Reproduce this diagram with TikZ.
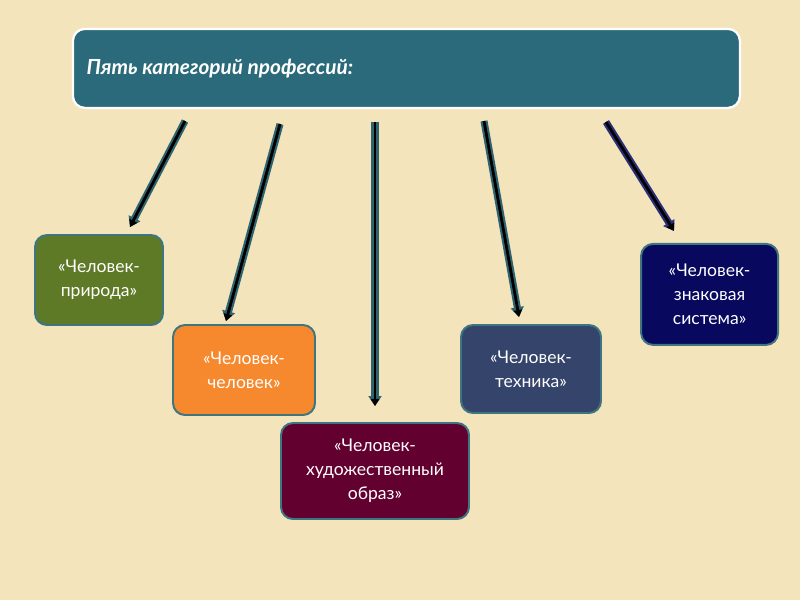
\documentclass[tikz,border=0pt]{standalone}
\usepackage{fontspec}
\setmainfont{Lato}
\usepackage{tikz}
\usetikzlibrary{arrows.meta}

\definecolor{bgsand}{HTML}{F3E4BC}
\definecolor{bannerteal}{HTML}{2A6A7B}
\definecolor{boxedge}{HTML}{3F7580}
\definecolor{natgreen}{HTML}{5F7A27}
\definecolor{humorange}{HTML}{F6892E}
\definecolor{artmaroon}{HTML}{62002F}
\definecolor{techslate}{HTML}{35446A}
\definecolor{signnavy}{HTML}{07085E}
\definecolor{glowteal}{HTML}{2E6470}
\definecolor{glownavy}{HTML}{2B2F7A}

\begin{document}
\begin{tikzpicture}[
		catbox/.style args = {#1/#2/#3}{%
			rectangle, rounded corners=0.3cm, draw=boxedge, line width=1.4pt,
			fill=#1, text=white, align=center, font=\fontsize{12.5}{17}\selectfont,
			minimum width=#2cm, minimum height=#3cm, inner sep=2pt},
		arr/.style = {%
			-{Triangle[length=5pt,width=6pt]}, line width=2pt, draw=black,
			preaction={draw=#1, line width=5pt, -{Triangle[length=7pt,width=9pt]}}}
		]
		\useasboundingbox[fill=bgsand] (0,0) rectangle (20,-15);
		\node (title) [rectangle, rounded corners=0.3cm, draw=white, line width=1.6pt,
			fill=bannerteal, minimum width=16.675cm, minimum height=1.975cm] at (10.16,-1.71) {};
		\node [anchor=west, text=white, font=\fontsize{14.8}{17}\selectfont\bfseries\itshape]
			at ([xshift=0.25cm]title.west) {Пять категорий профессий:};
		\node (nature) [catbox=natgreen/3.2/2.25]    at (2.475,-7.0)   {«Человек-\\природа»};
		\node (human)  [catbox=humorange/3.55/2.25]  at (6.1,-9.25)    {«Человек-\\человек»};
		\node (art)    [catbox=artmaroon/4.7/2.4]    at (9.375,-11.775) {«Человек-\\художественный\\образ»};
		\node (tech)   [catbox=techslate/3.5/2.2]    at (13.275,-9.225) {«Человек-\\техника»};
		\node (sign)   [catbox=signnavy/3.425/2.525] at (17.74,-7.36)  {«Человек-\\знаковая\\система»};
		\coordinate (s1) at (4.625,-3.025);
		\coordinate (s2) at (7.0,-3.1);
		\coordinate (s3) at (9.375,-3.05);
		\coordinate (s4) at (12.1,-3.025);
		\coordinate (s5) at (15.15,-3.05);
		\foreach \from/\to/\dx/\dy/\glow in {s1/nature/0.775/0.175/glowteal, s2/human/-0.45/0.075/glowteal,
			s3/art/0/0.4/glowteal, s4/tech/-0.3/0.175/glowteal, s5/sign/-0.89/0.3/glownavy}
		\draw[arr=\glow] (\from) -- ([shift={(\dx,\dy)}]\to.north);
	\end{tikzpicture}
\end{document}
